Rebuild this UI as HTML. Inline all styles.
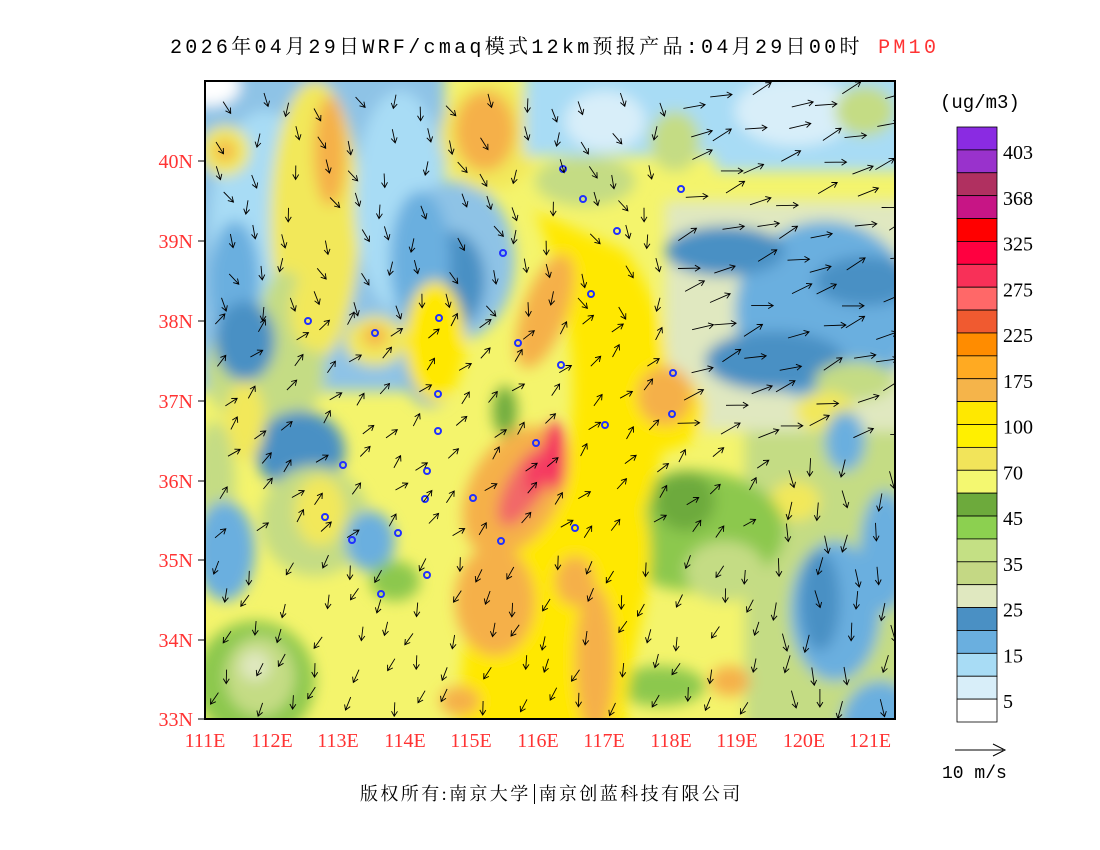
<!DOCTYPE html>
<html><head><meta charset="utf-8"><style>
body{margin:0;background:#fff;width:1100px;height:850px;overflow:hidden;position:relative;font-family:"Liberation Serif","Noto Serif CJK SC",serif}
.t{position:absolute;white-space:nowrap}
</style></head><body>
<div class="t" style="left:170px;top:30px;font-size:20px;color:#000;font-family:'Liberation Mono','Noto Serif CJK SC',monospace;letter-spacing:3.3px">2026年04月29日WRF/cmaq模式12km预报产品:04月29日00时 <span style="color:#f33">PM10</span></div>
<svg width="1100" height="850" style="position:absolute;left:0;top:0" xmlns="http://www.w3.org/2000/svg">
<defs>
<filter id="b" x="-20%" y="-20%" width="140%" height="140%"><feGaussianBlur stdDeviation="7"/></filter>
<clipPath id="c"><rect x="0" y="0" width="690" height="638"/></clipPath>
</defs>
<g transform="translate(205,81)" clip-path="url(#c)">
<rect width="690" height="638" fill="#f4f46c"/>
<g filter="url(#b)">
<rect x="-20" y="-20" width="260" height="330" fill="#8ec3e6"/>
<ellipse cx="60" cy="150" rx="55" ry="120" fill="#a8dcf5"/>
<ellipse cx="30" cy="200" rx="25" ry="60" fill="#6aafdf"/>
<ellipse cx="110" cy="140" rx="45" ry="140" fill="#f2e85a"/>
<ellipse cx="80" cy="240" rx="25" ry="50" fill="#c4dc84"/>
<ellipse cx="125" cy="70" rx="16" ry="55" fill="#f5b04a"/>
<ellipse cx="195" cy="120" rx="45" ry="110" fill="#a8dcf5"/>
<ellipse cx="250" cy="180" rx="60" ry="80" fill="#8ec3e6"/>
<ellipse cx="245" cy="200" rx="35" ry="50" fill="#4a90c4"/>
<ellipse cx="215" cy="180" rx="30" ry="70" fill="#6aafdf"/>
<ellipse cx="20" cy="70" rx="25" ry="25" fill="#f2e85a"/>
<ellipse cx="20" cy="70" rx="10" ry="10" fill="#f5b04a"/>
<ellipse cx="5" cy="5" rx="30" ry="20" fill="#fff"/>
<ellipse cx="60" cy="290" rx="60" ry="60" fill="#c4dc84"/>
<ellipse cx="40" cy="260" rx="30" ry="40" fill="#4a90c4"/>
<ellipse cx="95" cy="370" rx="45" ry="40" fill="#4a90c4"/>
<ellipse cx="40" cy="340" rx="20" ry="40" fill="#f2e85a"/>
<ellipse cx="10" cy="400" rx="20" ry="60" fill="#c4dc84"/>
<ellipse cx="110" cy="230" rx="25" ry="40" fill="#f2e85a"/>
<ellipse cx="170" cy="260" rx="30" ry="25" fill="#f2e85a"/>
<ellipse cx="170" cy="255" rx="12" ry="10" fill="#f5b04a"/>
<ellipse cx="225" cy="290" rx="25" ry="35" fill="#6aafdf"/>
<ellipse cx="110" cy="440" rx="55" ry="55" fill="#c4dc84"/>
<ellipse cx="115" cy="430" rx="25" ry="35" fill="#f2e85a"/>
<ellipse cx="20" cy="470" rx="30" ry="50" fill="#6aafdf"/>
<ellipse cx="165" cy="460" rx="25" ry="30" fill="#6aafdf"/>
<ellipse cx="190" cy="500" rx="25" ry="20" fill="#8cc84e"/>
<ellipse cx="50" cy="600" rx="60" ry="60" fill="#8cc84e"/>
<ellipse cx="55" cy="595" rx="35" ry="40" fill="#c4dc84"/>
<ellipse cx="50" cy="585" rx="15" ry="15" fill="#e0e8c0"/>
<ellipse cx="285" cy="55" rx="50" ry="55" fill="#f2e85a"/>
<ellipse cx="280" cy="50" rx="30" ry="40" fill="#f5b04a"/>
<rect x="320" y="-20" width="200" height="95" fill="#a8dcf5"/>
<ellipse cx="400" cy="40" rx="40" ry="30" fill="#d8eef9"/>
<ellipse cx="470" cy="60" rx="25" ry="30" fill="#c4dc84"/>
<ellipse cx="380" cy="100" rx="50" ry="25" fill="#c4dc84"/>
<rect x="510" y="-20" width="200" height="110" fill="#a8dcf5"/>
<ellipse cx="590" cy="30" rx="60" ry="35" fill="#d8eef9"/>
<ellipse cx="660" cy="30" rx="30" ry="25" fill="#c4dc84"/>
<rect x="460" y="120" width="250" height="230" fill="#e0e8c0"/>
<ellipse cx="620" cy="230" rx="90" ry="90" fill="#6aafdf"/>
<ellipse cx="520" cy="170" rx="60" ry="25" fill="#4a90c4"/>
<ellipse cx="660" cy="200" rx="50" ry="25" fill="#4a90c4"/>
<ellipse cx="570" cy="280" rx="70" ry="30" fill="#4a90c4"/>
<ellipse cx="650" cy="300" rx="40" ry="20" fill="#c4dc84"/>
<rect x="540" y="350" width="170" height="300" fill="#c4dc84"/>
<ellipse cx="620" cy="330" rx="30" ry="20" fill="#f2e85a"/>
<ellipse cx="630" cy="530" rx="45" ry="70" fill="#6aafdf"/>
<ellipse cx="615" cy="520" rx="20" ry="50" fill="#4a90c4"/>
<ellipse cx="680" cy="470" rx="25" ry="60" fill="#6aafdf"/>
<ellipse cx="675" cy="650" rx="40" ry="50" fill="#6aafdf"/>
<ellipse cx="640" cy="360" rx="20" ry="30" fill="#6aafdf"/>
<ellipse cx="590" cy="420" rx="25" ry="20" fill="#f2e85a"/>
<ellipse cx="490" cy="450" rx="90" ry="60" fill="#8cc84e"/>
<ellipse cx="480" cy="420" rx="30" ry="30" fill="#6daa3c"/>
<ellipse cx="430" cy="380" rx="25" ry="25" fill="#8cc84e"/>
<ellipse cx="520" cy="490" rx="40" ry="30" fill="#c4dc84"/>
<ellipse cx="455" cy="605" rx="45" ry="20" fill="#8cc84e"/>
<ellipse cx="300" cy="330" rx="12" ry="25" fill="#6daa3c"/>
<path d="M330 130 C360 200 380 300 360 380 C330 460 260 500 260 560 L250 660 L420 660 C420 560 460 500 440 430 C470 350 480 250 420 170 Z" fill="#ffe800"/>
<ellipse cx="230" cy="260" rx="30" ry="60" fill="#ffe800"/>
<ellipse cx="455" cy="330" rx="45" ry="40" fill="#ffe800"/>
<ellipse cx="340" cy="230" rx="22" ry="60" fill="#f5b04a" transform="rotate(20 340 230)"/>
<ellipse cx="460" cy="315" rx="28" ry="30" fill="#f5b04a"/>
<ellipse cx="310" cy="410" rx="45" ry="70" fill="#f5b04a" transform="rotate(30 310 410)"/>
<ellipse cx="290" cy="520" rx="40" ry="55" fill="#f5b04a"/>
<ellipse cx="390" cy="580" rx="20" ry="75" fill="#f5b04a"/>
<ellipse cx="370" cy="500" rx="20" ry="25" fill="#f5b04a"/>
<ellipse cx="255" cy="620" rx="20" ry="15" fill="#f5b04a"/>
<ellipse cx="525" cy="600" rx="20" ry="15" fill="#f5b04a"/>
<ellipse cx="320" cy="405" rx="18" ry="45" fill="#f26868" transform="rotate(30 320 405)"/>
<ellipse cx="350" cy="375" rx="12" ry="35" fill="#f53060"/>
<ellipse cx="330" cy="395" rx="8" ry="20" fill="#f53060"/>
</g>
<g fill="none" stroke="#2030ff" stroke-width="2">
<circle cx="358" cy="88" r="3"/><circle cx="378" cy="118" r="3"/><circle cx="476" cy="108" r="3"/><circle cx="412" cy="150" r="3"/><circle cx="298" cy="172" r="3"/><circle cx="386" cy="213" r="3"/><circle cx="234" cy="237" r="3"/><circle cx="103" cy="240" r="3"/><circle cx="170" cy="252" r="3"/><circle cx="313" cy="262" r="3"/><circle cx="356" cy="284" r="3"/><circle cx="233" cy="313" r="3"/><circle cx="468" cy="292" r="3"/><circle cx="233" cy="350" r="3"/><circle cx="400" cy="344" r="3"/><circle cx="331" cy="362" r="3"/><circle cx="467" cy="333" r="3"/><circle cx="138" cy="384" r="3"/><circle cx="222" cy="390" r="3"/><circle cx="268" cy="417" r="3"/><circle cx="220" cy="418" r="3"/><circle cx="120" cy="436" r="3"/><circle cx="193" cy="452" r="3"/><circle cx="147" cy="459" r="3"/><circle cx="296" cy="460" r="3"/><circle cx="370" cy="447" r="3"/><circle cx="222" cy="494" r="3"/><circle cx="176" cy="513" r="3"/>
</g>
<g id="arrows" stroke="#000" stroke-width="0.9" fill="none"></g>
</g>
<rect x="205" y="81" width="690" height="638" fill="none" stroke="#000" stroke-width="2"/>
<g stroke="#000" stroke-width="1">
<line x1="198" y1="161" x2="205" y2="161"/><line x1="198" y1="241" x2="205" y2="241"/><line x1="198" y1="321" x2="205" y2="321"/><line x1="198" y1="401" x2="205" y2="401"/><line x1="198" y1="481" x2="205" y2="481"/><line x1="198" y1="560" x2="205" y2="560"/><line x1="198" y1="640" x2="205" y2="640"/><line x1="198" y1="719" x2="205" y2="719"/>
</g>
<g font-family="Liberation Serif,serif" font-size="20" fill="#f33" text-anchor="end">
<text x="193" y="168">40N</text><text x="193" y="248">39N</text><text x="193" y="328">38N</text><text x="193" y="408">37N</text><text x="193" y="488">36N</text><text x="193" y="567">35N</text><text x="193" y="647">34N</text><text x="193" y="726">33N</text>
</g>
<g font-family="Liberation Serif,serif" font-size="20" fill="#f33" text-anchor="middle">
<text x="205" y="747">111E</text><text x="272" y="747">112E</text><text x="338" y="747">113E</text><text x="405" y="747">114E</text><text x="471" y="747">115E</text><text x="538" y="747">116E</text><text x="604" y="747">117E</text><text x="671" y="747">118E</text><text x="737" y="747">119E</text><text x="804" y="747">120E</text><text x="870" y="747">121E</text>
</g>
<g id="cb"></g>
<text x="940" y="108" font-family="Liberation Mono,monospace" font-size="19">(ug/m3)</text>
<line x1="955" y1="750" x2="1003" y2="750" stroke="#000"/><path d="M993 744 L1005 750 L993 756" stroke="#000" fill="none"/>
<text x="942" y="778" font-family="Liberation Mono,monospace" font-size="18">10 m/s</text>
</svg>
<div class="t" style="left:360px;top:780px;font-size:18px;letter-spacing:2.4px;font-family:'Liberation Serif','Noto Serif CJK SC',serif">版权所有:南京大学<span style="border-left:1px solid #000;margin-left:3px;padding-left:4px">南京创蓝科技有限公司</span></div>
<script>
var cols=["#8a2be2","#9932cc","#b03060","#c71585","#ff0000","#ff0040","#f83058","#ff6868","#f05a30","#ff8c00","#ffaa22","#f5b44a","#ffe800","#fff000","#f2e45a","#f4f870","#6daa3c","#8cd050","#c4e084","#c4d884","#e0e8c0","#4a90c4","#6aafdf","#a8dcf5","#d8eef9","#ffffff"];
var labs=["403","368","325","275","225","175","100","70","45","35","25","15","5"];
var s="",h=595/26;
for(var i=0;i<26;i++){s+='<rect x="957" y="'+(127+i*h)+'" width="40" height="'+h+'" fill="'+cols[i]+'" stroke="#000" stroke-width="0.8"/>';}
for(var j=0;j<13;j++){s+='<text x="1003" y="'+(159+j*2*h)+'" font-family="Liberation Serif,serif" font-size="20">'+labs[j]+'</text>';}
document.getElementById("cb").innerHTML=s;
var a="";
for(var y=20;y<638;y+=33){for(var x=18;x<690;x+=33){
var ang,len=14;
var jx=x+8*Math.sin(y*1.3+x),jy=y+8*Math.cos(x*0.9+y);
if(x>450&&y<380){ang=-0.3;len=22;}
else if(x>560){ang=1.57;len=18;}
else if(y>450){ang=1.9;}
else if(y<250){ang=1.3+0.3*Math.sin(x);}
else{ang=-0.8;}
ang+=0.3*Math.sin(x*0.7+y*0.3);
var dx=Math.cos(ang)*len,dy=Math.sin(ang)*len,x2=jx+dx,y2=jy+dy;
var l=Math.sqrt(dx*dx+dy*dy),ux=dx/l,uy=dy/l;
a+='<path d="M'+jx.toFixed(1)+' '+jy.toFixed(1)+' L'+x2.toFixed(1)+' '+y2.toFixed(1)+' M'+(x2-5*ux-3*uy).toFixed(1)+' '+(y2-5*uy+3*ux).toFixed(1)+' L'+x2.toFixed(1)+' '+y2.toFixed(1)+' L'+(x2-5*ux+3*uy).toFixed(1)+' '+(y2-5*uy-3*ux).toFixed(1)+'"/>';
}}
document.getElementById("arrows").innerHTML=a;
</script>
</body></html>
